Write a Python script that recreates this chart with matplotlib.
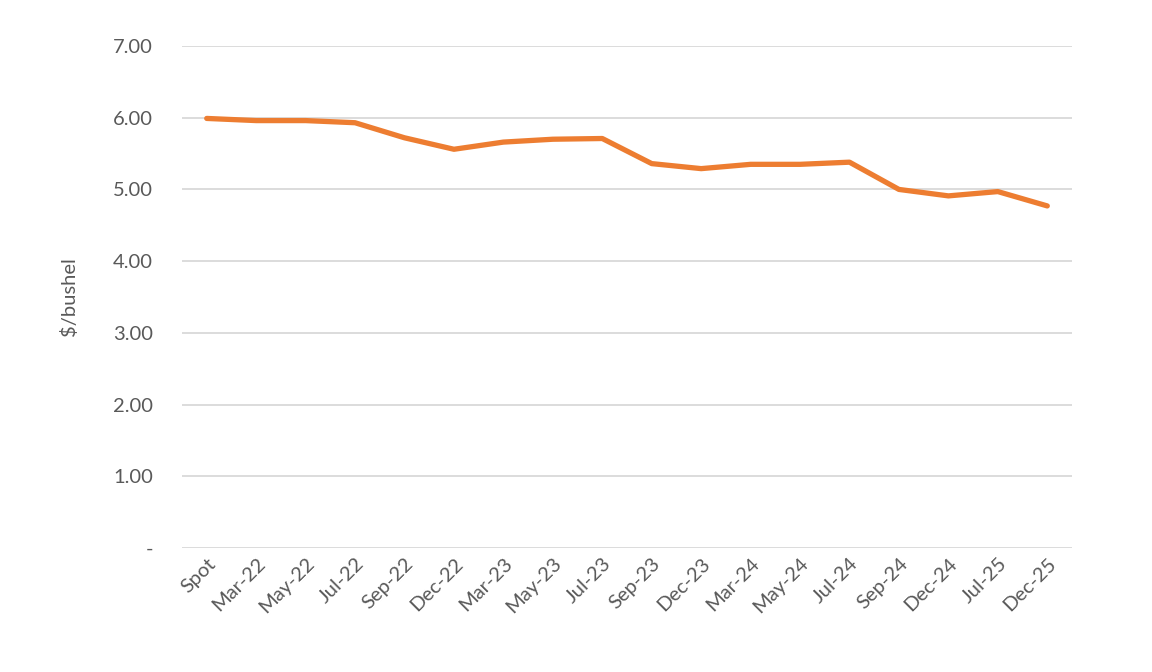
import matplotlib
matplotlib.use('Agg')
import matplotlib.pyplot as plt
from matplotlib.ticker import FuncFormatter

plt.rcParams['font.family'] = ['Lato', 'DejaVu Sans']

# Datos de la curva de futuros
contratos = ['Spot', 'Mar-22', 'May-22', 'Jul-22', 'Sep-22', 'Dec-22', 'Mar-23',
             'May-23', 'Jul-23', 'Sep-23', 'Dec-23', 'Mar-24', 'May-24', 'Jul-24',
             'Sep-24', 'Dec-24', 'Jul-25', 'Dec-25']
precios = [5.99, 5.96, 5.96, 5.93, 5.72, 5.56, 5.66, 5.70, 5.71, 5.36, 5.29,
           5.35, 5.35, 5.38, 5.00, 4.91, 4.97, 4.77]

gris = '#595959'

fig = plt.figure(figsize=(11.52, 6.72), dpi=100)
ax = fig.add_axes([182 / 1152, 1 - 548 / 672, (1072 - 182) / 1152, (548 - 46) / 672])

x = list(range(len(contratos)))
ax.plot(x, precios, color='#ED7D31', linewidth=3.8, solid_capstyle='round',
        solid_joinstyle='round', zorder=3)

ax.set_xlim(-0.5, len(contratos) - 0.5)
ax.set_ylim(0, 7)
ax.set_yticks(range(0, 8))
ax.yaxis.set_major_formatter(FuncFormatter(lambda v, p: '-' if v == 0 else f'{v:.2f}'))
ax.grid(axis='y', color='#D9D9D9', linewidth=1.3)
ax.set_axisbelow(True)

ax.set_xticks(x)
ax.set_xticklabels(contratos, rotation=45, ha='right', rotation_mode='anchor')

for s in ax.spines.values():
    s.set_visible(False)
ax.tick_params(axis='both', length=0, labelsize=14.5, colors=gris)
ax.tick_params(axis='y', pad=21)
ax.tick_params(axis='x', pad=5)

ax.set_ylabel('$/bushel', fontsize=14.5, color=gris, labelpad=25)

fig.savefig('out.png', dpi=100, facecolor='white')
